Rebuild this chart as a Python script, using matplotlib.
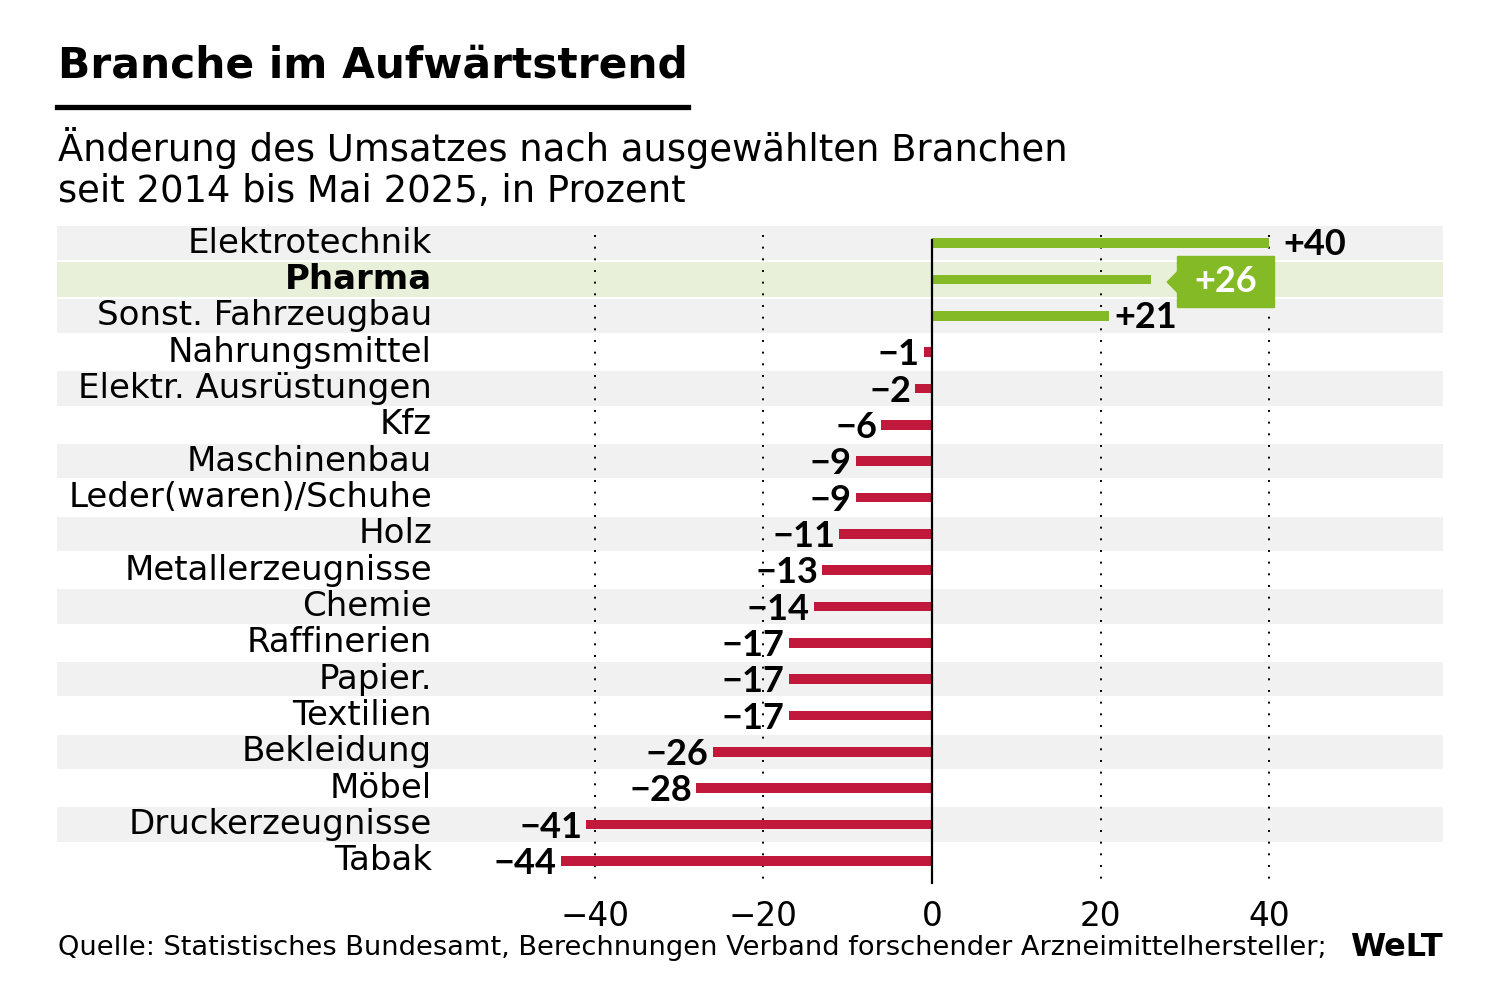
import matplotlib
matplotlib.use("Agg")
import matplotlib.pyplot as plt
from matplotlib.patches import Polygon, Rectangle
import matplotlib.lines as mlines

plt.rcParams['font.family'] = ['DejaVu Sans']
VALFONT = ['Lato', 'DejaVu Sans']

categories = ["Elektrotechnik", "Pharma", "Sonst. Fahrzeugbau", "Nahrungsmittel",
              "Elektr. Ausrüstungen", "Kfz", "Maschinenbau", "Leder(waren)/Schuhe",
              "Holz", "Metallerzeugnisse", "Chemie", "Raffinerien", "Papier.",
              "Textilien", "Bekleidung", "Möbel", "Druckerzeugnisse", "Tabak"]
values = [40, 26, 21, -1, -2, -6, -9, -9, -11, -13, -14, -17, -17, -17, -26, -28, -41, -44]
highlight = "Pharma"
xticks = [-40, -20, 0, 20, 40]
xtick_labels = ["−40", "−20", "0", "20", "40"]

GREEN = "#84ba26"
RED = "#c0193c"
BAND = "#f1f1f1"
HL = "#e8f0d9"

W, H = 1499, 999
fig = plt.figure(figsize=(W / 100, H / 100), dpi=100)
fig.patch.set_facecolor("white")

ax_l, ax_r, ax_t, ax_b = 57, 1443, 225, 879
ax = fig.add_axes([ax_l / W, 1 - ax_b / H, (ax_r - ax_l) / W, (ax_b - ax_t) / H])
px = 8.43
xmin = (ax_l - 932) / px
xmax = (ax_r - 932) / px
ax.set_xlim(xmin, xmax)
n = len(categories)
ax.set_ylim(n - 0.5, -0.5)
for s in ax.spines.values():
    s.set_visible(False)
ax.set_yticks([])

ys = list(range(n))
# background bands
for i, c in enumerate(categories):
    if c == highlight:
        ax.barh(i, xmax - xmin, left=xmin, height=0.945, color=HL, zorder=0)
    elif i % 2 == 0:
        ax.barh(i, xmax - xmin, left=xmin, height=0.945, color=BAND, zorder=0)

# grid lines
for t in xticks:
    if t == 0:
        ax.plot([0, 0], [-0.09, n - 0.4], color="black", lw=1.6, zorder=3, clip_on=False)
    else:
        ax.plot([t, t], [-0.22, n - 0.33], color="black", lw=1.4,
                linestyle=(0, (1, 5)), zorder=1, clip_on=False)

colors = [GREEN if v > 0 else RED for v in values]
ax.barh(ys, values, height=0.27, color=colors, zorder=2)

ytr = ax.get_yaxis_transform()
lab_x = (432 - ax_l) / (ax_r - ax_l)
for i, c in enumerate(categories):
    ax.text(lab_x, i, c, transform=ytr, ha="right", va="center",
            fontsize=24.5, fontweight="bold" if c == highlight else "normal",
            color="black")

for i, (c, v) in enumerate(zip(categories, values)):
    lbl = ("+%d" % v) if v > 0 else ("−%d" % abs(v))
    if c == highlight:
        x0 = v + 3.1
        x1 = v + 14.6
        ax.add_patch(Rectangle((x0, i - 0.65), x1 - x0, 1.4, color=GREEN, zorder=4))
        ax.add_patch(Polygon([[v + 1.9, i + 0.07], [x0 + 0.05, i - 0.22], [x0 + 0.05, i + 0.36]],
                             closed=True, color=GREEN, zorder=4))
        ax.text((x0 + x1) / 2, i + 0.06, lbl, ha="center", va="center", fontsize=26,
                fontweight="bold", color="white", zorder=5, family=VALFONT)
    elif v > 0:
        ax.annotate(lbl, (v, i), xytext=(4 if v < 30 else 10, -1), textcoords="offset points",
                    ha="left", va="center", fontsize=26, fontweight="bold", family=VALFONT)
    else:
        ax.annotate(lbl, (v, i), xytext=(-3, -2), textcoords="offset points",
                    ha="right", va="center", fontsize=26, fontweight="bold", family=VALFONT)

ax.set_xticks(xticks)
ax.set_xticklabels(xtick_labels, fontsize=23.5)
ax.tick_params(axis="x", length=0, pad=15)

# title and subtitle
fig.text(58 / W, 1 - 66 / H, "Branche im Aufwärtstrend", fontsize=30.5, fontweight="bold",
         ha="left", va="center")
fig.add_artist(mlines.Line2D([57 / W, 688 / W], [1 - 107 / H, 1 - 107 / H],
                             color="black", lw=3.8))
fig.text(58 / W, 1 - 148 / H, "Änderung des Umsatzes nach ausgewählten Branchen",
         fontsize=26.6, ha="left", va="center")
fig.text(58 / W, 1 - 191 / H, "seit 2014 bis Mai 2025, in Prozent",
         fontsize=26.6, ha="left", va="center")

fig.text(58 / W, 1 - 948 / H,
         "Quelle: Statistisches Bundesamt, Berechnungen Verband forschender Arzneimittelhersteller;",
         fontsize=19.6, ha="left", va="center")
fig.text(1443 / W, 1 - 948 / H, "WeLT", fontsize=23, fontweight="bold",
         ha="right", va="center")

fig.savefig("out.png", dpi=100, facecolor="white")
